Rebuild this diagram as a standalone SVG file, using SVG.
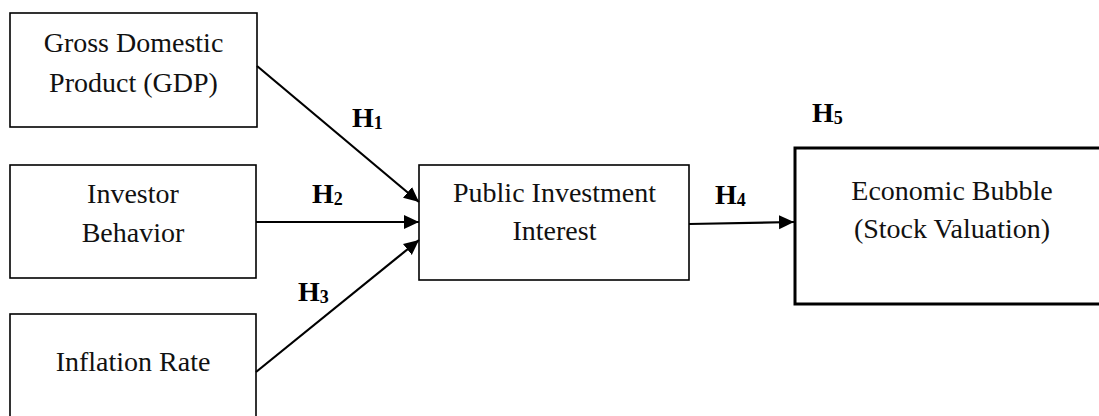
<svg xmlns="http://www.w3.org/2000/svg" width="1099" height="416" viewBox="0 0 1099 416">
<style>
.box{fill:#fff;stroke:#000;stroke-width:1.6}
.thick{stroke-width:3}
.t{font-family:"Liberation Serif","Times New Roman",serif;font-size:28px;fill:#111;text-anchor:middle}
.h{font-family:"Liberation Serif","Times New Roman",serif;font-size:28px;font-weight:bold;fill:#000}
.sub{font-size:18px}
.c{stroke:#000;stroke-width:2.2;fill:none}
</style>
<defs>
<marker id="ah" markerUnits="userSpaceOnUse" markerWidth="16" markerHeight="16" viewBox="0 0 16 16" refX="15" refY="8" orient="auto">
<path d="M0,1 L15,8 L0,15 Z" fill="#000"/>
</marker>
</defs>
<rect width="1099" height="416" fill="#fff"/>
<g id="node-gdp">
<rect class="box" x="10" y="13" width="247" height="114"/>
<text class="t" x="133.5" y="52">Gross Domestic</text>
<text class="t" x="133.5" y="92">Product (GDP)</text>
</g>
<g id="node-investor">
<rect class="box" x="10" y="165" width="246" height="113"/>
<text class="t" x="133" y="203">Investor</text>
<text class="t" x="133" y="242">Behavior</text>
</g>
<g id="node-inflation">
<rect class="box" x="10" y="314" width="246" height="120"/>
<text class="t" x="133" y="371">Inflation Rate</text>
</g>
<g id="node-public">
<rect class="box" x="419" y="165" width="270" height="115"/>
<text class="t" x="554.5" y="202">Public Investment</text>
<text class="t" x="554.5" y="240">Interest</text>
</g>
<g id="node-bubble">
<rect class="box thick" x="795" y="148" width="330" height="156"/>
<text class="t" x="952" y="200">Economic Bubble</text>
<text class="t" x="952" y="238">(Stock Valuation)</text>
</g>
<g id="connectors">
<line class="c" x1="257" y1="66" x2="419" y2="202" marker-end="url(#ah)"/>
<line class="c" x1="256" y1="222" x2="419" y2="222" marker-end="url(#ah)"/>
<line class="c" x1="256" y1="372" x2="419" y2="240" marker-end="url(#ah)"/>
<line class="c" x1="689" y1="224" x2="794" y2="222" marker-end="url(#ah)"/>
</g>
<g id="labels">
<text class="h" x="352" y="127">H<tspan class="sub" dy="2">1</tspan></text>
<text class="h" x="312" y="203">H<tspan class="sub" dy="2">2</tspan></text>
<text class="h" x="298" y="301">H<tspan class="sub" dy="2">3</tspan></text>
<text class="h" x="715" y="204">H<tspan class="sub" dy="2">4</tspan></text>
<text class="h" x="812" y="122">H<tspan class="sub" dy="2">5</tspan></text>
</g>
</svg>
